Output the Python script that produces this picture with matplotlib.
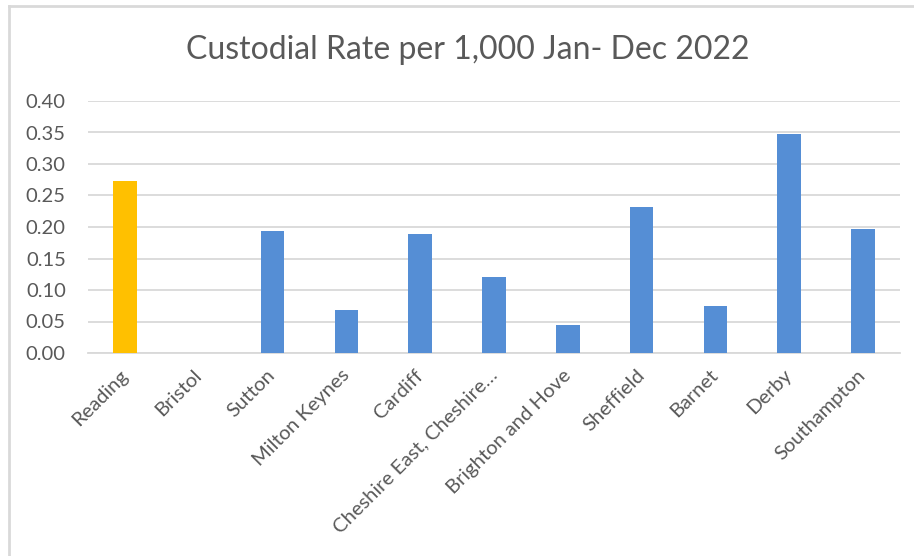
import matplotlib
matplotlib.use("Agg")
import matplotlib.pyplot as plt
from matplotlib.lines import Line2D

categories = ["Reading", "Bristol", "Sutton", "Milton Keynes", "Cardiff",
              "Cheshire East, Cheshire…", "Brighton and Hove", "Sheffield",
              "Barnet", "Derby", "Southampton"]
values = [0.273, 0.0, 0.194, 0.068, 0.189, 0.121, 0.044, 0.232, 0.074, 0.347, 0.197]
highlight = "Reading"
yticks = [0.00, 0.05, 0.10, 0.15, 0.20, 0.25, 0.30, 0.35, 0.40]
title = "Custodial Rate per 1,000 Jan- Dec 2022"

plt.rcParams['font.family'] = ['Lato', 'DejaVu Sans']

W, H = 914, 556
fig = plt.figure(figsize=(W / 100, H / 100), dpi=100)
ax = fig.add_axes([88 / W, 1 - 353 / H, (900 - 88) / W, (353 - 101) / H])

colors = ["#FFC000" if c == highlight else "#558ED5" for c in categories]
x = list(range(len(categories)))
ax.bar(x, values, width=0.32, color=colors, zorder=3)

ax.set_xlim(-0.5, len(categories) - 0.5)
ax.set_ylim(0, 0.40)
ax.set_yticks(yticks)
ax.set_yticklabels([f"{v:.2f}" for v in yticks])
ax.grid(axis='y', color="#D9D9D9", linewidth=1.3, zorder=0)
for s in ['top', 'right', 'left']:
    ax.spines[s].set_visible(False)
ax.spines['bottom'].set_color("#D9D9D9")
ax.spines['bottom'].set_linewidth(1.3)
ax.tick_params(axis='both', length=0, colors="#595959")
ax.tick_params(axis='y', pad=16, labelsize=14.5)
ax.set_xticks(x)
ax.set_xticklabels(categories, rotation=45, ha='right', va='center',
                   rotation_mode='anchor', fontsize=14.5)
ax.tick_params(axis='x', pad=14)

fig.text(468 / W, 1 - 50 / H, title, ha='center', va='center',
         fontsize=23, color="#595959")

# chart frame
fig.add_artist(Line2D([9 / W, 9 / W], [0, 1 - 6 / H], color="#D9D9D9", linewidth=2,
                      transform=fig.transFigure))
fig.add_artist(Line2D([9 / W, 1], [1 - 6 / H, 1 - 6 / H], color="#D9D9D9", linewidth=2,
                      transform=fig.transFigure))

fig.savefig("out.png", dpi=100)
